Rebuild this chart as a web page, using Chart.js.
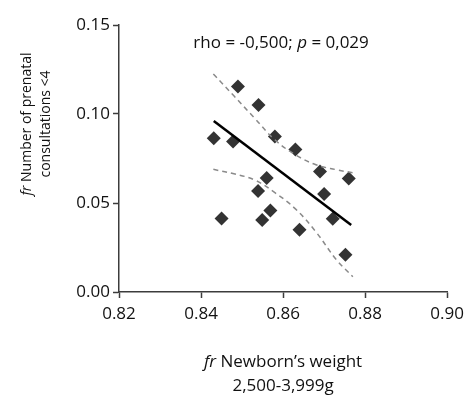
<!DOCTYPE html>
<html>
<head>
<meta charset="utf-8">
<script src="https://cdn.jsdelivr.net/npm/chart.js@4"></script>
<style>
  html, body { margin: 0; padding: 0; background: #fff; }
  #wrap { width: 470px; height: 398px; }
</style>
</head>
<body>
<div id="wrap"><canvas id="c" width="470" height="398"></canvas></div>
<script>
// Relative frequency of newborns weighing 2,500-3,999 g (x) vs. relative
// frequency of fewer than 4 prenatal consultations (y), one point per unit.
const weightFr = [0.8431, 0.8450, 0.8478, 0.8490, 0.8540, 0.8539, 0.8549, 0.8560, 0.8569,
                  0.8580, 0.8630, 0.8640, 0.8690, 0.8700, 0.8721, 0.8752, 0.8760];
const consultFr = [0.0864, 0.0413, 0.0845, 0.1154, 0.1051, 0.0567, 0.0404, 0.0640, 0.0458,
                   0.0874, 0.0801, 0.0350, 0.0677, 0.0550, 0.0411, 0.0209, 0.0637];

// Fitted line end points
const fitX = [0.8431, 0.8766];
const fitY = [0.0961, 0.0376];

// Confidence band of the fit
const bandX = [0.8430, 0.8480, 0.8530, 0.8580, 0.8630, 0.8680, 0.8730, 0.8770];
const bandUpper = [0.1225, 0.1102, 0.0978, 0.0855, 0.0771, 0.0715, 0.0687, 0.0670];
const bandLower = [0.0689, 0.0664, 0.0630, 0.0558, 0.0467, 0.0338, 0.0181, 0.0086];

const xTicks = [0.82, 0.84, 0.86, 0.88, 0.90];
const yTicks = [0.00, 0.05, 0.10, 0.15];

const statsText = ['rho = -0,500; ', 'p', ' = 0,029'];
const xTitle = [['fr', ' Newborn\u2019s weight'], ['', '2,500-3,999g']];
const yTitle = [['fr', ' Number of prenatal'], ['', 'consultations <4']];

const FONT = '"Open Sans", "Noto Sans", sans-serif';
const FS = 17;
const AXIS = '#3c3c3c';

const zip = (xs, ys) => xs.map((x, i) => ({ x, y: ys[i] }));

// Draw a line made of text segments centred at (cx, cy); the segment
// holding "fr" or "p" is set in italics.
function drawMixed(ctx, parts, cx, cy, size) {
  const segs = parts.map((t, i) => ({ t, it: parts.length === 2 ? i === 0 : i === 1 }));
  const fontOf = it => (it ? 'italic ' : '') + size + 'px ' + FONT;
  let w = 0;
  segs.forEach(s => { ctx.font = fontOf(s.it); s.w = ctx.measureText(s.t).width; w += s.w; });
  let x = cx - w / 2;
  segs.forEach(s => {
    ctx.font = fontOf(s.it);
    ctx.fillText(s.t, x, cy);
    x += s.w;
  });
}

const textPlugin = {
  id: 'texts',
  afterDraw(chart) {
    const ctx = chart.ctx;
    const a = chart.chartArea;
    ctx.save();
    ctx.fillStyle = '#111';
    ctx.textAlign = 'left';
    ctx.textBaseline = 'middle';
    const cx = (a.left + a.right) / 2;
    // statistics label
    drawMixed(ctx, statsText, cx - 2, a.top + 18, FS);
    // x axis title
    drawMixed(ctx, xTitle[0], cx, a.bottom + 70, FS);
    drawMixed(ctx, xTitle[1], cx, a.bottom + 94, FS);
    // y axis title (rotated)
    ctx.translate(0, 124);
    ctx.rotate(-Math.PI / 2);
    drawMixed(ctx, yTitle[0], 0, 27, 14);
    drawMixed(ctx, yTitle[1], 0, 46, 14);
    ctx.restore();
  }
};

Chart.defaults.font.family = FONT;
Chart.defaults.font.size = FS;
Chart.defaults.color = '#111';

new Chart(document.getElementById('c'), {
  type: 'scatter',
  data: {
    datasets: [
      {
        data: zip(bandX, bandUpper), showLine: true, pointRadius: 0,
        borderColor: '#8a8a8a', borderWidth: 1.5, borderDash: [5, 4], tension: 0.4, fill: false
      },
      {
        data: zip(bandX, bandLower), showLine: true, pointRadius: 0,
        borderColor: '#8a8a8a', borderWidth: 1.5, borderDash: [5, 4], tension: 0.4, fill: false
      },
      {
        data: zip(fitX, fitY), showLine: true, pointRadius: 0,
        borderColor: '#000', borderWidth: 2.5
      },
      {
        data: zip(weightFr, consultFr), pointStyle: 'rectRot', pointRadius: 7,
        backgroundColor: '#333', borderColor: '#333', borderWidth: 0
      }
    ]
  },
  options: {
    responsive: false,
    animation: false,
    layout: { padding: { top: 25, right: 22, left: 0, bottom: 0 } },
    plugins: { legend: { display: false }, tooltip: { enabled: false } },
    scales: {
      x: {
        type: 'linear', min: 0.82, max: 0.90,
        afterBuildTicks: s => { s.ticks = xTicks.map(v => ({ value: v })); },
        afterFit: s => { s.height = 106; },
        ticks: { padding: 6, color: '#111', callback: v => v.toFixed(2) },
        grid: { drawOnChartArea: false, drawTicks: true, tickLength: 6, tickColor: AXIS, tickWidth: 1.5 },
        border: { display: true, color: AXIS, width: 1.5 }
      },
      y: {
        type: 'linear', min: 0, max: 0.15,
        afterBuildTicks: s => { s.ticks = yTicks.map(v => ({ value: v })); },
        afterFit: s => { s.width = 119; },
        ticks: { padding: 3, color: '#111', callback: v => v.toFixed(2) },
        grid: { drawOnChartArea: false, drawTicks: true, tickLength: 6, tickColor: AXIS, tickWidth: 1.5 },
        border: { display: true, color: AXIS, width: 1.5 }
      }
    }
  },
  plugins: [textPlugin]
});
</script>
</body>
</html>
